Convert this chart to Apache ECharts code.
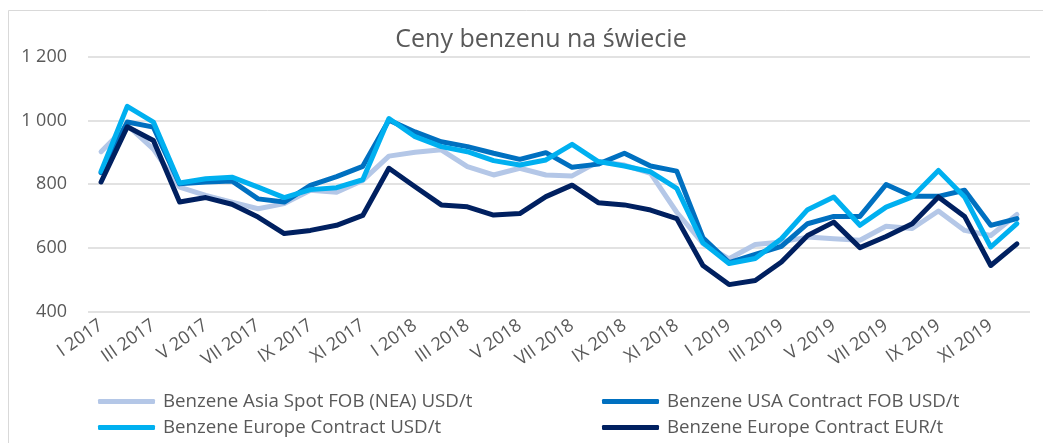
<!DOCTYPE html>
<html>
<head>
<meta charset="utf-8">
<script src="https://cdn.jsdelivr.net/npm/echarts@6/dist/echarts.min.js"></script>
<style>
html,body{margin:0;padding:0;background:#fff;}
#chart{width:1043px;height:443px;}
</style>
</head>
<body>
<div id="chart"></div>
<script>
const categories = [
  'I 2017','II 2017','III 2017','IV 2017','V 2017','VI 2017','VII 2017','VIII 2017','IX 2017','X 2017','XI 2017','XII 2017',
  'I 2018','II 2018','III 2018','IV 2018','V 2018','VI 2018','VII 2018','VIII 2018','IX 2018','X 2018','XI 2018','XII 2018',
  'I 2019','II 2019','III 2019','IV 2019','V 2019','VI 2019','VII 2019','VIII 2019','IX 2019','X 2019','XI 2019','XII 2019'
];
const asiaSpotUSD = [902,985,910,791,765,744,723,739,781,775,812,888,
                     900,908,855,829,850,829,826,871,860,834,712,614,
                     566,611,619,634,629,624,668,661,716,655,639,705];
const usaContractUSD = [836,995,979,801,807,810,754,744,796,824,856,1001,
                        964,933,918,897,878,899,853,863,897,857,841,632,
                        554,580,605,676,699,699,799,762,762,781,671,692];
const europeContractUSD = [840,1044,995,804,817,822,791,758,783,789,814,1006,
                           949,918,902,874,860,876,925,871,857,839,787,616,
                           551,567,629,720,760,671,728,760,843,760,603,676];
const europeContractEUR = [807,980,937,744,758,737,697,645,655,671,702,850,
                           792,735,729,703,708,761,797,742,735,719,692,545,
                           485,498,556,639,681,601,636,676,760,699,545,613];
const seriesNames = [
  'Benzene Asia Spot FOB (NEA) USD/t',
  'Benzene USA Contract FOB USD/t',
  'Benzene Europe Contract USD/t',
  'Benzene Europe Contract EUR/t'
];
const yTicks = [400, 600, 800, 1000, 1200];
const colors = ['#B4C7E7', '#0070C0', '#00B0F0', '#002060'];

const FONT = '"Open Sans"';
const TXT = '#595959';

function fmt(v){ return String(v).replace(/\B(?=(\d{3})+(?!\d))/g, ' '); }

const chart = echarts.init(document.getElementById('chart'), null, {renderer:'canvas'});
const datasets = [asiaSpotUSD, usaContractUSD, europeContractUSD, europeContractEUR];

const legendPos = [
  {left: 98, top: 392},
  {left: 602, top: 392},
  {left: 98, top: 418},
  {left: 602, top: 418}
];

chart.setOption({
  animation: false,
  backgroundColor: '#fff',
  title: {
    text: 'Ceny benzenu na świecie',
    left: 541, top: 27, textAlign: 'center', padding: 0,
    textStyle: {fontFamily: FONT, fontSize: 25, fontWeight: 'normal', color: TXT}
  },
  graphic: [{
    type: 'rect', shape: {x: 8.5, y: 10.5, width: 1100, height: 600},
    style: {fill: 'none', stroke: '#D9D9D9', lineWidth: 1}, silent: true, z: -1
  }],
  legend: seriesNames.map((n, i) => ({
    data: [n], left: legendPos[i].left, top: legendPos[i].top, padding: 0,
    icon: 'roundRect', itemWidth: 57, itemHeight: 5, itemGap: 0,
    textStyle: {fontFamily: FONT, fontSize: 18.7, color: TXT, padding: [0,0,0,3]},
    selectedMode: false
  })),
  grid: {left: 88, right: 13, top: 56.7, bottom: 131.3, containLabel: false},
  xAxis: {
    type: 'category', data: categories, boundaryGap: true,
    axisLine: {show: false}, axisTick: {show: false},
    axisLabel: {interval: 1, rotate: 35, fontFamily: FONT, fontSize: 18, color: TXT, margin: 12, showMinLabel: true}
  },
  yAxis: {
    type: 'value', min: yTicks[0], max: yTicks[yTicks.length-1], interval: 200,
    axisLine: {show: false}, axisTick: {show: false},
    axisLabel: {fontFamily: FONT, fontSize: 18, color: TXT, margin: 21, formatter: fmt},
    splitLine: {lineStyle: {color: '#D9D9D9', width: 1.5}}
  },
  series: seriesNames.map((n, i) => ({
    name: n, type: 'line', data: datasets[i], symbol: 'none', smooth: false,
    color: colors[i],
    lineStyle: {width: 5, color: colors[i], cap: 'round', join: 'round'}
  }))
});
</script>
</body>
</html>
